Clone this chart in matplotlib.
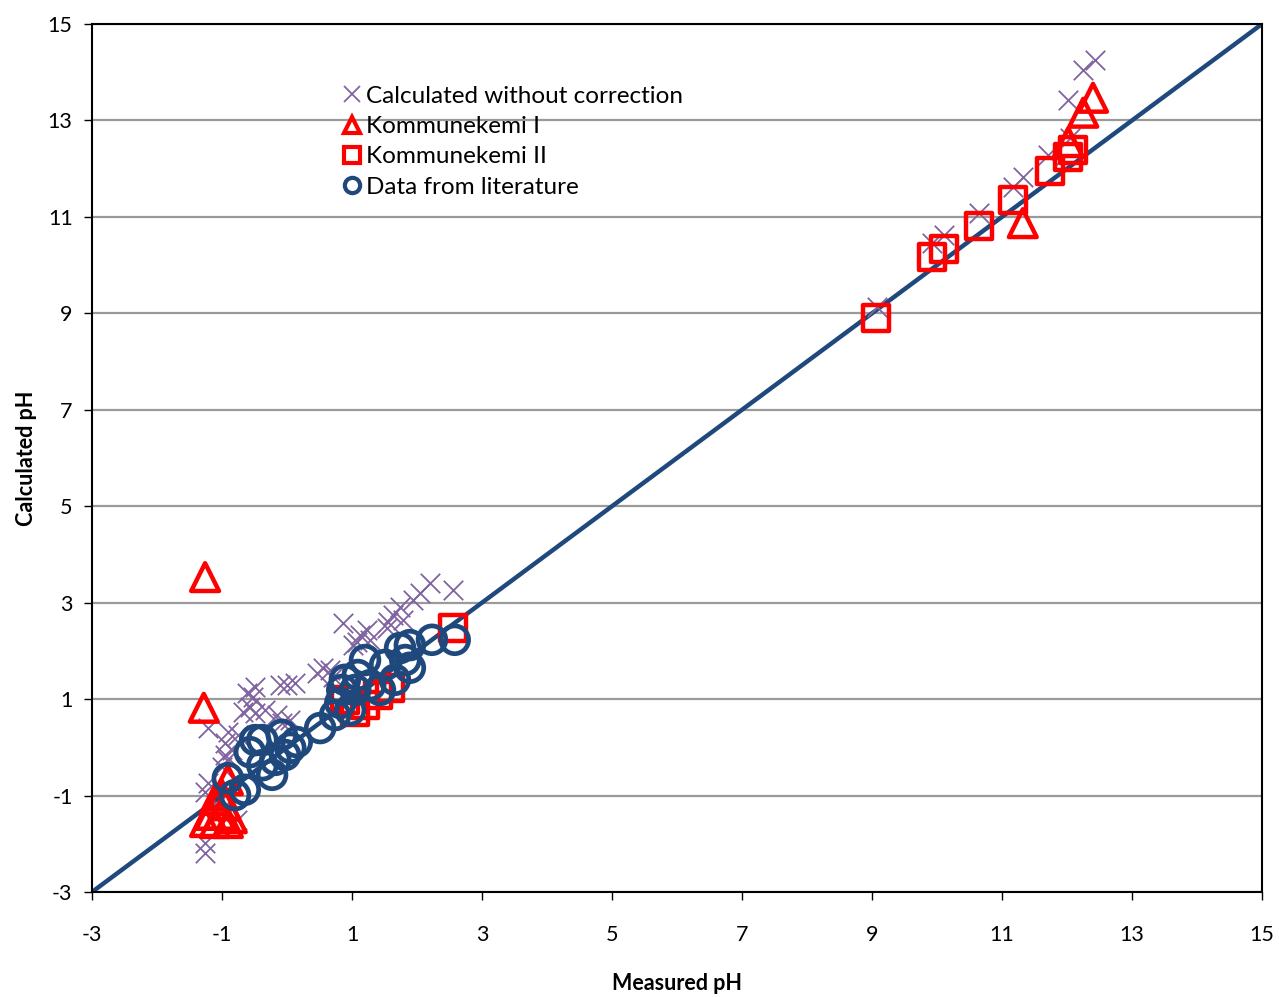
import matplotlib.pyplot as plt
from matplotlib.lines import Line2D

plt.rcParams["font.family"] = ["Lato", "DejaVu Sans"]
plt.rcParams["axes.unicode_minus"] = False

# pH values: measured (x) vs calculated (y)
uncorr_x = [12.43, 12.25, 12.02, 12.05, 11.71, 11.32, 11.17, 10.65, 10.11, 9.92, 9.08,
            2.20, 2.55, 2.05, 1.94, 1.74, 1.63, 1.78, 1.55, 1.54, 1.23, 0.86, 1.12, 1.28,
            1.08, 1.02, 0.66, 0.55, 0.46, 0.71, 0.12, 0.00, -0.11, -0.49, -0.62, -0.52,
            -0.57, -0.68, -0.49, -0.34, -0.15, 0.05, -0.08, -1.22, -0.91, -0.75, -0.95,
            -0.85, -0.95, -0.92, -1.00, -1.22, -1.26, -0.77, -1.26, -1.26, -1.10, -1.05]
uncorr_y = [14.25, 14.05, 13.42, 12.64, 12.28, 11.83, 11.62, 11.08, 10.63, 10.46, 9.13,
            3.41, 3.26, 3.20, 3.06, 2.91, 2.74, 2.64, 2.60, 2.47, 2.43, 2.58, 2.33, 2.23,
            2.18, 2.12, 1.60, 1.65, 1.54, 1.46, 1.33, 1.29, 1.29, 1.25, 1.13, 1.04,
            0.84, 0.73, 0.71, 0.77, 0.67, 0.57, 0.50, 0.40, 0.32, 0.26, 0.09,
            -0.06, -0.16, -0.26, -0.41, -0.74, -0.93, -1.51, -1.98, -2.19, -1.20, -1.35]

kk1_x = [12.40, 12.25, 12.02, 11.32, -1.26, -1.28, -0.91, -1.11, -1.00, -0.95,
         -1.18, -1.03, -0.85, -1.26, -1.11, -0.91]
kk1_y = [13.47, 13.16, 12.55, 10.87, 3.53, 0.82, -0.68, -1.09, -0.99, -1.20,
         -1.40, -1.40, -1.47, -1.55, -1.57, -1.57]

kk2_x = [9.06, 9.92, 10.11, 10.65, 11.17, 11.74, 12.02, 12.09, 2.55,
         1.05, 1.20, 1.40, 0.89, 1.58]
kk2_y = [8.90, 10.17, 10.33, 10.81, 11.35, 11.95, 12.24, 12.39, 2.47,
         0.73, 0.88, 1.09, 0.98, 1.23]

lit_x = [2.58, 2.23, 1.89, 1.74, 1.82, 1.66, 1.89, 1.51, 1.20, 1.43, 0.89, 0.85,
         1.05, 0.82, 0.97, 0.74, 0.51, 0.15, -0.03, -0.08, -0.23, -0.49, -0.57,
         -0.38, -0.65, -0.80, -0.91, -0.18, -0.38, 0.05, 1.28, 1.09]
lit_y = [2.23, 2.23, 2.12, 2.06, 1.81, 1.40, 1.65, 1.71, 1.81, 1.19, 1.40, 1.19,
         1.19, 0.92, 0.77, 0.67, 0.40, 0.11, -0.16, 0.26, -0.57, 0.15, -0.10,
         -0.37, -0.88, -0.99, -0.64, -0.26, 0.15, -0.01, 1.29, 1.50]

purple = "#8064A2"
red = "#FF0000"
navy = "#1F497D"

fig = plt.figure(figsize=(12.79, 9.97), dpi=100)
ax = fig.add_axes([92 / 1279, 105 / 997, 1170 / 1279, 868 / 997])

ax.set_xlim(-3, 15)
ax.set_ylim(-3, 15)
ax.set_xticks(range(-3, 16, 2))
ax.set_yticks(range(-3, 16, 2))
ax.yaxis.grid(True, color="#9A9A9A", linewidth=1.6)
ax.set_axisbelow(True)

ax.plot([-3, 15], [-3, 15], color=navy, linewidth=3.2, zorder=2)

ax.scatter(uncorr_x, uncorr_y, marker="x", s=14 ** 2, color=purple, linewidths=1.3, zorder=3)
ax.scatter(kk1_x, kk1_y, marker="^", s=20 ** 2, facecolors="none", edgecolors=red,
           linewidths=3.2, zorder=4)
ax.scatter(kk2_x, kk2_y, marker="s", s=19 ** 2, facecolors="none", edgecolors=red,
           linewidths=3.2, zorder=5)
ax.scatter(lit_x, lit_y, marker="o", s=20 ** 2, facecolors="none", edgecolors=navy,
           linewidths=3.4, zorder=6)

handles = [
    Line2D([], [], linestyle="none", marker="x", markersize=11, color=purple, markeredgewidth=1.3),
    Line2D([], [], linestyle="none", marker="^", markersize=11, markerfacecolor="none",
           markeredgecolor=red, markeredgewidth=3),
    Line2D([], [], linestyle="none", marker="s", markersize=11, markerfacecolor="none",
           markeredgecolor=red, markeredgewidth=3),
    Line2D([], [], linestyle="none", marker="o", markersize=11, markerfacecolor="none",
           markeredgecolor=navy, markeredgewidth=3),
]
labels = ["Calculated without correction", "Kommunekemi I", "Kommunekemi II",
          "Data from literature"]
ax.legend(handles, labels, loc="upper left", bbox_to_anchor=(0.206, 0.94), frameon=False,
          fontsize=17.5, handlelength=0.8, handletextpad=0.15, labelspacing=0.38,
          borderaxespad=0)

for side in ["left", "right", "top", "bottom"]:
    ax.spines[side].set_color("black")
    ax.spines[side].set_linewidth(1.5)

ax.tick_params(axis="x", direction="out", length=6, width=1, pad=18, labelsize=15.5)
ax.tick_params(axis="y", direction="out", length=6, width=1, pad=8, labelsize=15.5)

ax.set_xlabel("Measured pH", fontsize=15.5, fontweight="bold", labelpad=20)
ax.set_ylabel("Calculated pH", fontsize=15.5, fontweight="bold", labelpad=8)

fig.savefig("out.png", dpi=100)
